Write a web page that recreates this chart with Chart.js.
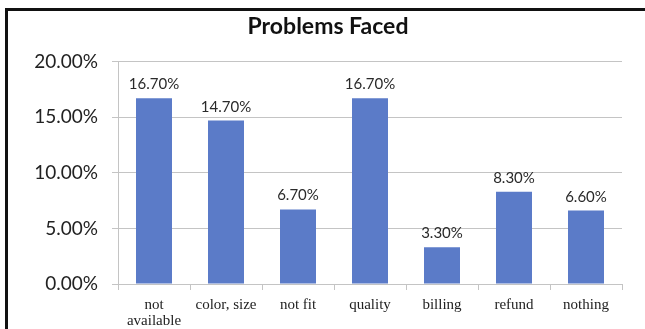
<!DOCTYPE html>
<html>
<head>
<meta charset="utf-8">
<script src="https://cdn.jsdelivr.net/npm/chart.js@4/dist/chart.umd.min.js"></script>
<style>
  html, body { margin: 0; padding: 0; background: #fff; }
  #wrap { position: relative; width: 645px; height: 329px; overflow: hidden; }
  #c { position: absolute; left: 0; top: 0; }
  #frame { position: absolute; left: 5px; top: 8px; right: -10px; bottom: -10px;
           border-left: 3px solid #111; border-top: 3px solid #111; pointer-events: none; }
</style>
</head>
<body>
<div id="wrap">
  <canvas id="c" width="645" height="329"></canvas>
  <div id="frame"></div>
</div>
<script>
const categories = [["not", "available"], "color, size", "not fit", "quality", "billing", "refund", "nothing"];
const values = [16.7, 14.7, 6.7, 16.7, 3.3, 8.3, 6.6];
const yTicks = [0, 5, 10, 15, 20];
const chartTitle = "Problems Faced";

const barColor = "#5b7bc8";
const gridColor = "#c4c4c4";

const dataLabelPlugin = {
  id: "dataLabels",
  afterDatasetsDraw(chart) {
    const ctx = chart.ctx;
    const meta = chart.getDatasetMeta(0);
    ctx.save();
    ctx.font = "15px Lato";
    ctx.fillStyle = "#2a2a2a";
    ctx.textAlign = "center";
    ctx.textBaseline = "alphabetic";
    meta.data.forEach((bar, i) => {
      ctx.fillText(values[i].toFixed(2) + "%", bar.x, bar.y - 9);
    });
    ctx.restore();
  }
};

new Chart(document.getElementById("c"), {
  type: "bar",
  data: {
    labels: categories,
    datasets: [{
      data: values,
      backgroundColor: barColor,
      borderWidth: 0,
      categoryPercentage: 1.0,
      barPercentage: 0.5
    }]
  },
  options: {
    responsive: false,
    animation: false,
    devicePixelRatio: 1,
    layout: { padding: { left: 34, right: 23, top: 0, bottom: 0 } },
    plugins: {
      legend: { display: false },
      tooltip: { enabled: false },
      title: {
        display: true,
        text: chartTitle,
        color: "#111",
        font: { family: "Lato", size: 23, weight: "bold", lineHeight: 1.2 },
        padding: { top: 13, bottom: 21 }
      }
    },
    scales: {
      x: {
        grid: { display: true, drawOnChartArea: false, drawTicks: true, tickLength: 6, color: gridColor },
        border: { display: true, color: gridColor, width: 1 },
        ticks: {
          color: "#222",
          font: { family: "Liberation Serif", size: 15, lineHeight: 1.05 },
          padding: 7,
          maxRotation: 0,
          autoSkip: false
        },
        afterFit(scale) { scale.height = 45; }
      },
      y: {
        min: 0,
        max: 20,
        afterBuildTicks(scale) { scale.ticks = yTicks.map(v => ({ value: v })); },
        grid: { color: gridColor, tickLength: 6, drawTicks: true },
        border: { display: true, color: gridColor, width: 1 },
        ticks: {
          color: "#222",
          font: { family: "Lato", size: 19 },
          padding: 14,
          callback: (v) => v.toFixed(2) + "%"
        },
        afterFit(scale) { scale.width = 84; }
      }
    }
  },
  plugins: [dataLabelPlugin]
});
</script>
</body>
</html>
